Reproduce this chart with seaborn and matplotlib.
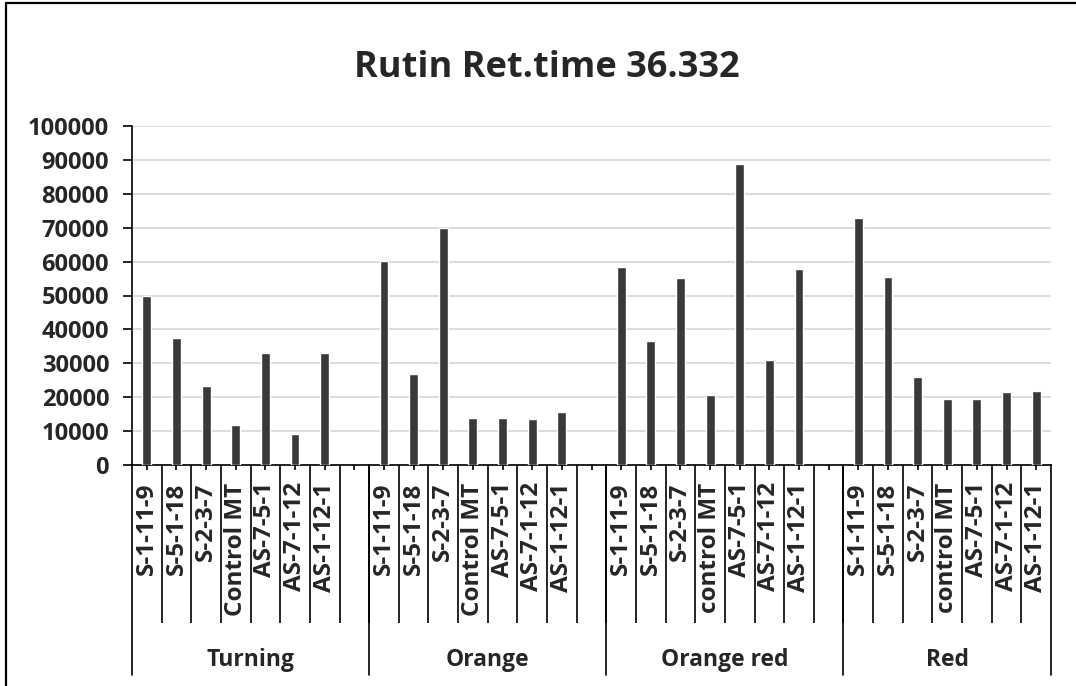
import matplotlib
matplotlib.use('Agg')
import matplotlib.pyplot as plt
import matplotlib.transforms as mtransforms
from matplotlib.lines import Line2D
import pandas as pd
import seaborn as sns

# DATA
groups = ['Turning', 'Orange', 'Orange red', 'Red']
samples = {
    'Turning': ['S-1-11-9', 'S-5-1-18', 'S-2-3-7', 'Control MT', 'AS-7-5-1', 'AS-7-1-12', 'AS-1-12-1'],
    'Orange': ['S-1-11-9', 'S-5-1-18', 'S-2-3-7', 'Control MT', 'AS-7-5-1', 'AS-7-1-12', 'AS-1-12-1'],
    'Orange red': ['S-1-11-9', 'S-5-1-18', 'S-2-3-7', 'control MT', 'AS-7-5-1', 'AS-7-1-12', 'AS-1-12-1'],
    'Red': ['S-1-11-9', 'S-5-1-18', 'S-2-3-7', 'control MT', 'AS-7-5-1', 'AS-7-1-12', 'AS-1-12-1'],
}
turning_vals = [49800, 37500, 23200, 11700, 32900, 9000, 32900]
orange_vals = [60300, 26700, 70000, 13800, 13900, 13700, 15600]
orange_red_vals = [58500, 36600, 55100, 20600, 88800, 31000, 57900]
red_vals = [72900, 55500, 25900, 19500, 19500, 21400, 21700]
values = {'Turning': turning_vals, 'Orange': orange_vals,
          'Orange red': orange_red_vals, 'Red': red_vals}

rows = []
order = []
tick_labels = []
for g in groups:
    for s, v in zip(samples[g], values[g]):
        key = g + '|' + s
        rows.append({'key': key, 'Area': v})
        order.append(key)
        tick_labels.append(s)
    if g != groups[-1]:
        # empty slot after each group, like the Excel chart
        order.append(g + '|gap')
        tick_labels.append('')
data = pd.DataFrame(rows)
n_slots = len(order)

sns.set_theme(style='white')
plt.rcParams['font.family'] = ['Open Sans', 'DejaVu Sans']
plt.rcParams['font.weight'] = 'bold'

fig = plt.figure(figsize=(10.76, 6.86), dpi=100)
ax = fig.add_axes([132 / 1076, 1 - 465 / 686, 919 / 1076, 339 / 686])

sns.barplot(data=data, x='key', y='Area', order=order, color='#3a3938',
            saturation=1, width=0.3, ax=ax, zorder=3)

ax.set_xlim(-0.5, n_slots - 0.5)
ax.set_ylim(0, 100000)
ax.set_yticks(range(0, 100001, 10000))
ax.set_yticklabels([str(v) for v in range(0, 100001, 10000)], fontsize=17, fontweight='bold')
ax.yaxis.grid(True, color='#d9d9d9', linewidth=1.3, zorder=0)
ax.set_axisbelow(True)
ax.tick_params(axis='y', direction='out', length=6.5, width=1.2, color='black', pad=10, left=True)

# slot boundaries as long major ticks, labels on minor ticks at bar centres
ax.set_xticks([i + 0.5 for i in range(n_slots - 1)])
ax.set_xticklabels([])
ax.set_xticks(list(range(n_slots)), minor=True)
ax.set_xticklabels(tick_labels, minor=True, rotation=90, fontsize=17.5, fontweight='bold')
ax.tick_params(axis='x', which='major', direction='out', length=114, width=1.2, color='black', bottom=True)
ax.tick_params(axis='x', which='minor', direction='out', length=3.5, width=1.2, color='black',
               pad=9, bottom=True)
for lbl in ax.get_xticklabels(minor=True):
    lbl.set_verticalalignment('top')

ax.set_xlabel('')
ax.set_ylabel('')
for side in ['top', 'right']:
    ax.spines[side].set_visible(False)
for side in ['left', 'bottom']:
    ax.spines[side].set_color('black')
    ax.spines[side].set_linewidth(1.2)

# group dividers and group names
trans = mtransforms.blended_transform_factory(ax.transData, ax.transAxes)
start = 0
for g in groups:
    n = len(samples[g])
    left = start - 0.5
    ax.add_line(Line2D([left, left], [0, -0.618], transform=trans, color='black',
                       linewidth=1.2, clip_on=False))
    ax.text(start + (n - 1) / 2 + (0.5 if g != groups[-1] else 0), -0.575, g,
            transform=trans, ha='center', va='center', fontsize=16.5, fontweight='bold')
    start += n + (1 if g != groups[-1] else 0)
ax.add_line(Line2D([n_slots - 0.5, n_slots - 0.5], [0, -0.618], transform=trans, color='black',
                   linewidth=1.2, clip_on=False))

fig.text(547 / 1076, 1 - 77 / 686, 'Rutin Ret.time 36.332', ha='center', va='baseline',
         fontsize=26, fontweight='bold')

# outer chart frame (left and top edges visible)
fig.add_artist(Line2D([6 / 1076, 6 / 1076], [0, 1 - 3 / 686], transform=fig.transFigure,
                      color='black', linewidth=1.6))
fig.add_artist(Line2D([6 / 1076, 1], [1 - 3 / 686, 1 - 3 / 686], transform=fig.transFigure,
                      color='black', linewidth=1.6))

fig.savefig('out.png', dpi=100)
